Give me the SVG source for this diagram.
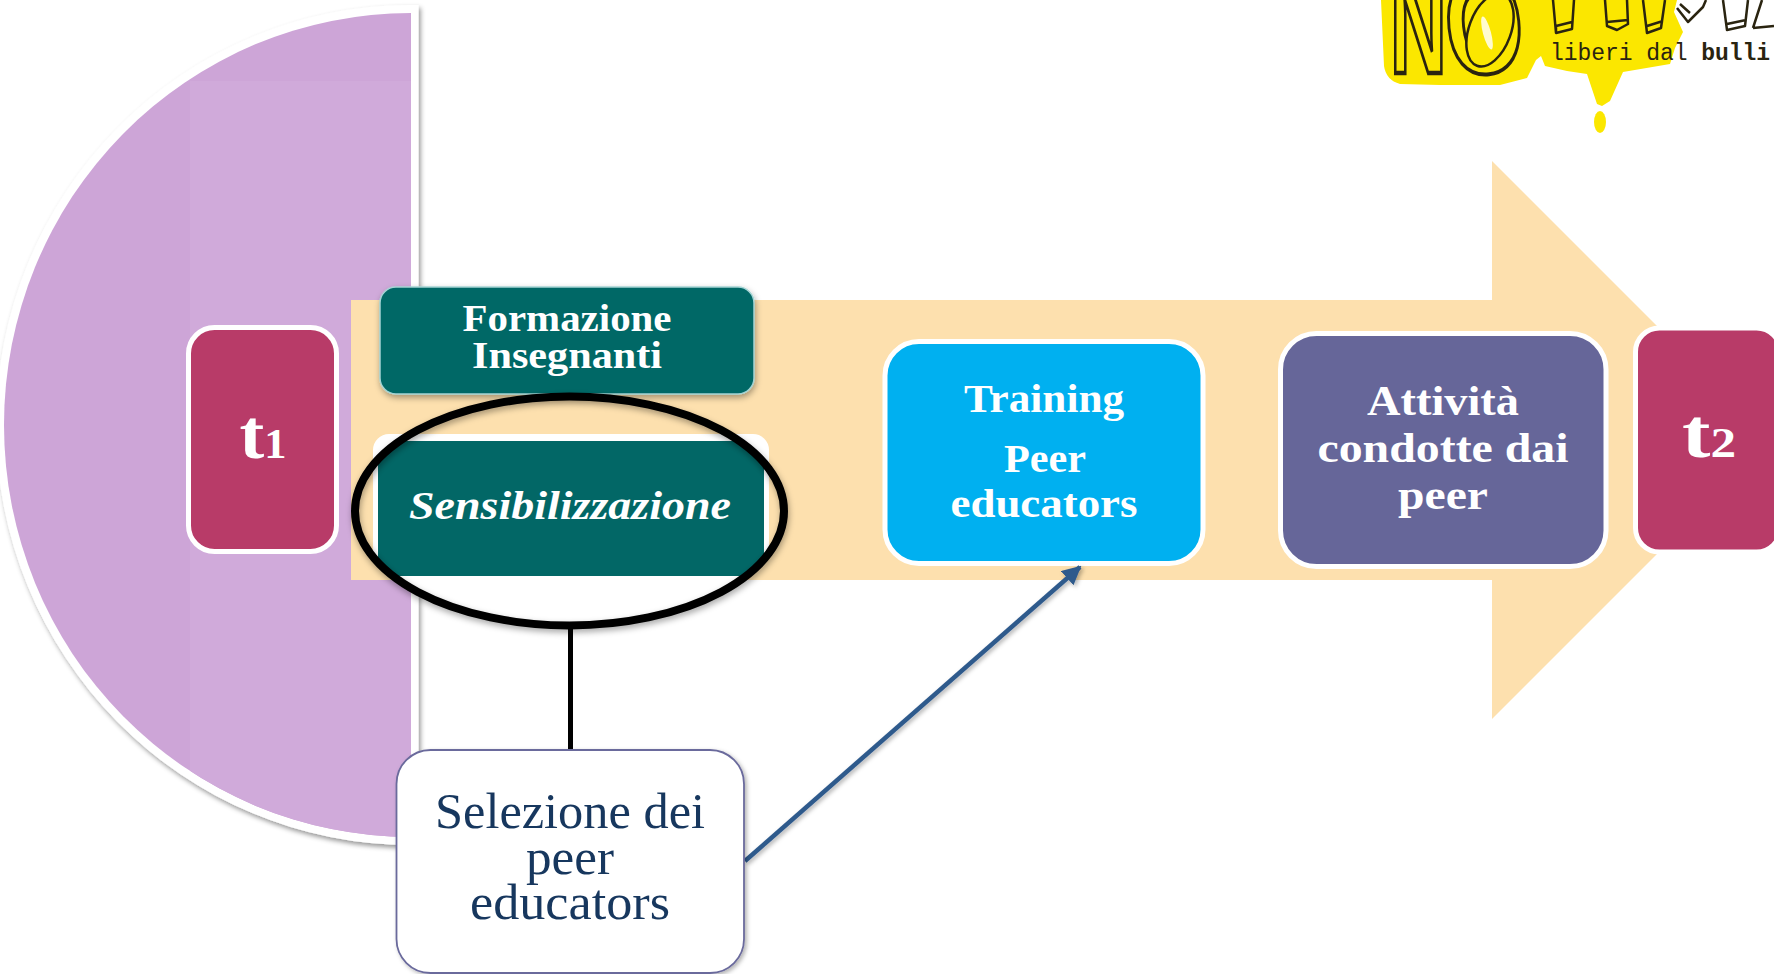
<svg xmlns="http://www.w3.org/2000/svg" width="1774" height="974" viewBox="0 0 1774 974">
<defs>
<filter id="sh" x="-10%" y="-10%" width="120%" height="125%"><feDropShadow dx="1" dy="3" stdDeviation="3" flood-color="#000" flood-opacity="0.35"/></filter>
<filter id="shs" x="-10%" y="-10%" width="120%" height="120%"><feDropShadow dx="2" dy="2" stdDeviation="2" flood-color="#000" flood-opacity="0.3"/></filter>
<filter id="shc" x="-5%" y="-5%" width="112%" height="110%"><feDropShadow dx="2" dy="3" stdDeviation="2.500" flood-color="#000" flood-opacity="0.42"/></filter>
<filter id="bl"><feGaussianBlur stdDeviation="0.7"/></filter>
<marker id="ah" viewBox="0 0 10 10" refX="9" refY="5" markerWidth="4.200" markerHeight="4.200" orient="auto-start-reverse" markerUnits="strokeWidth"><path d="M0 0L10 5L0 10z" fill="#2f5a8c"/></marker>
<clipPath id="half"><path d="M411 13A407 412 0 0 0 411 837z"/></clipPath>
<clipPath id="top"><rect x="1370" y="0" width="404" height="140"/></clipPath>
<clipPath id="oval"><ellipse cx="569.500" cy="511" rx="215" ry="115"/></clipPath>
<clipPath id="panel"><ellipse cx="569.500" cy="511" rx="215" ry="115"/><rect x="360" y="430" width="420" height="100"/></clipPath>
</defs>
<style>
text{font-family:"Liberation Serif","Times New Roman",serif;text-anchor:middle;fill:#fff}
.b{font-weight:700}
.box{stroke:#fff;stroke-width:5}
.f{font-size:38px}
.big{font-size:70px}
.sel{font-size:50px;fill:#17375e}
.mono{font-family:"Liberation Mono","DejaVu Sans Mono",monospace;font-size:23px;text-anchor:start;fill:#2a2410}
.leg{fill:none;stroke:#2a2410;stroke-width:2.500;stroke-linejoin:round}
</style>
<rect width="1774" height="974" fill="#fff"/>
<g id="half-circle">
<path d="M418.500 5H411A415 420 0 0 0 411 845H418.500z" fill="#fff" filter="url(#shc)"/>
<path d="M411 13A407 412 0 0 0 411 837z" fill="#cda5d7"/>
<rect x="190" y="81" width="221" height="760" fill="#d0aada" clip-path="url(#half)"/>
</g>
<g id="logo" clip-path="url(#top)">
<path d="M1381 0L1384 66Q1386 80 1400 84L1440 85L1500 85L1527 78L1536 60L1541 56L1545 66L1567 71L1587 74L1597 104L1602 106L1610 101L1623 72L1670 64L1675 48L1683 32L1674 12L1677 0z" fill="#fbe700" filter="url(#bl)"/>
<ellipse cx="1600" cy="122" rx="6" ry="11" fill="#fbe700" filter="url(#bl)"/>
<text transform="translate(1390 73) scale(0.56 1)" style="text-anchor:start;font-family:'Liberation Sans',sans-serif;font-size:140px;font-weight:700;fill:#fbe700;stroke:#2a2410;stroke-width:4.500">N</text>
<text transform="translate(1450 77) rotate(-6) scale(0.72 1)" style="text-anchor:start;font-family:'Liberation Sans',sans-serif;font-size:140px;font-weight:700;fill:#fbe700;stroke:#2a2410;stroke-width:4">O</text>
<ellipse cx="1490" cy="30" rx="21" ry="38" transform="rotate(20 1490 30)" fill="#fbe700" stroke="#2a2410" stroke-width="2.500"/>
<ellipse cx="1487" cy="33" rx="4" ry="17" transform="rotate(-15 1487 33)" fill="#fffbd0"/>
<path class="leg" d="M1553 0L1556 33L1572 29L1574 0M1556 33L1556 26L1572 22"/>
<path class="leg" d="M1605 0L1607 26L1617 30L1628 24L1627 0M1607 22L1628 20"/>
<path class="leg" d="M1643 0L1647 33L1661 28L1665 0M1647 26L1663 21"/>
<path class="leg" d="M1677 8L1688 22L1703 7L1706 0M1680 4L1690 13"/>
<path class="leg" d="M1723 0L1727 30L1745 26L1748 0M1727 24L1746 20"/>
<path class="leg" d="M1753 28L1762 0M1753 28L1774 26"/>
<text class="mono" x="1550" y="60" textLength="220" lengthAdjust="spacing">liberi dal <tspan font-weight="700">bulli</tspan></text>
</g>
<g id="big-arrow"><path d="M351 300H1492V161L1771 440L1492 719V580H351z" fill="#fde0ae"/></g>
<g id="t1">
<rect class="box" x="188.500" y="327.500" width="148" height="224" rx="26" fill="#b83b68"/>
<text class="b big" x="263" y="458" textLength="47" lengthAdjust="spacingAndGlyphs">t<tspan font-size="42">1</tspan></text>
</g>
<g id="formazione">
<rect x="380" y="287" width="374" height="107" rx="16" fill="#026766" stroke="#a4d4d4" stroke-width="1.500" filter="url(#sh)"/>
<text class="b f" x="567" y="331" textLength="209" lengthAdjust="spacingAndGlyphs">Formazione</text>
<text class="b f" x="567" y="368" textLength="190" lengthAdjust="spacingAndGlyphs">Insegnanti</text>
</g>
<g id="selection-panel"><rect x="373" y="434" width="396" height="170" rx="16" fill="#fff" clip-path="url(#panel)"/></g>
<g id="sensibilizzazione">
<rect x="378" y="441" width="386" height="135" fill="#026766" clip-path="url(#oval)"/>
<text class="b" x="570" y="519" font-size="40" font-style="italic" textLength="322" lengthAdjust="spacingAndGlyphs">Sensibilizzazione</text>
</g>
<g id="training">
<rect class="box" x="885" y="341.500" width="318" height="222" rx="34" fill="#00b0f0"/>
<text class="b" x="1044" y="412" font-size="40" textLength="160" lengthAdjust="spacingAndGlyphs">Training</text>
<text class="b" x="1045" y="472" font-size="40" textLength="82" lengthAdjust="spacingAndGlyphs">Peer</text>
<text class="b" x="1044" y="517" font-size="40" textLength="187" lengthAdjust="spacingAndGlyphs">educators</text>
</g>
<g id="attivita">
<rect class="box" x="1280.500" y="333.500" width="325.500" height="233" rx="36" fill="#666699"/>
<text class="b" x="1443" y="415" font-size="42" textLength="152" lengthAdjust="spacingAndGlyphs">Attività</text>
<text class="b" x="1443" y="462" font-size="42" textLength="251" lengthAdjust="spacingAndGlyphs">condotte dai</text>
<text class="b" x="1443" y="509" font-size="42" textLength="90" lengthAdjust="spacingAndGlyphs">peer</text>
</g>
<g id="t2">
<rect class="box" x="1635.500" y="328" width="145" height="224" rx="24" fill="#b83b68"/>
<text class="b big" x="1709" y="457" textLength="54" lengthAdjust="spacingAndGlyphs">t<tspan font-size="42">2</tspan></text>
</g>
<g id="connectors">
<ellipse cx="569.500" cy="511" rx="214.500" ry="114.500" fill="none" stroke="#000" stroke-width="8" filter="url(#sh)"/>
<line x1="570.500" y1="629" x2="570.500" y2="750" stroke="#000" stroke-width="5"/>
<line x1="745" y1="861" x2="1080" y2="567" stroke="#2f5a8c" stroke-width="4.500" marker-end="url(#ah)" filter="url(#shs)"/>
</g>
<g id="selezione">
<rect x="396.500" y="750" width="347.500" height="223" rx="34" fill="#fff" stroke="#6a6a9c" stroke-width="1.800" filter="url(#shs)"/>
<text class="sel" x="570" y="828" textLength="270" lengthAdjust="spacingAndGlyphs">Selezione dei</text>
<text class="sel" x="570" y="874" textLength="88" lengthAdjust="spacingAndGlyphs">peer</text>
<text class="sel" x="570" y="919" textLength="200" lengthAdjust="spacingAndGlyphs">educators</text>
</g>
</svg>
